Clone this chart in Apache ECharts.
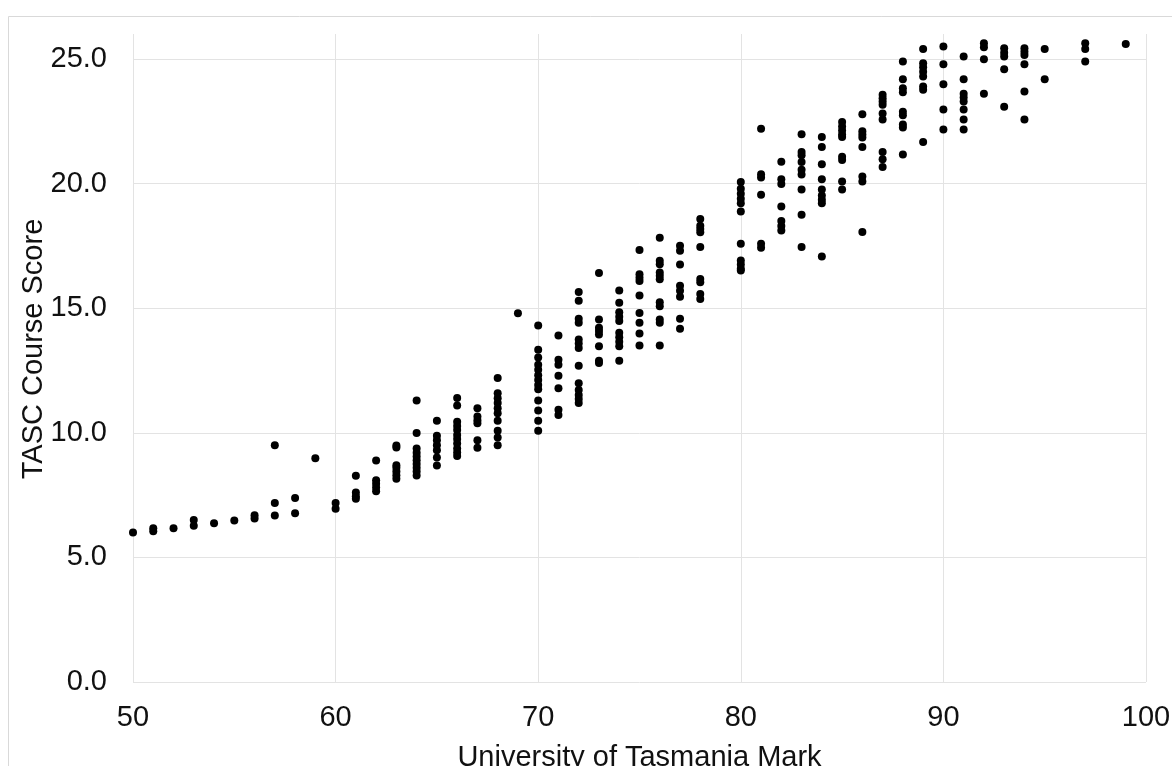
<!DOCTYPE html>
<html>
<head>
<meta charset="utf-8">
<script src="https://cdn.jsdelivr.net/npm/echarts@6/dist/echarts.min.js"></script>
<style>html,body{margin:0;padding:0;background:#fff;}#c{width:1172px;height:766px;}</style>
</head>
<body>
<div id="c"></div>
<script>
// University of Tasmania Mark -> list of TASC Course Scores observed at that mark
const marks = [50,51,52,53,54,55,56,57,58,59,60,61,62,63,64,65,66,67,68,69,70,71,72,73,74,75,76,77,78,80,81,82,83,84,85,86,87,88,89,90,91,92,93,94,95,97,99];
const scoresByMark = [
  [6.0],
  [6.05, 6.17],
  [6.17],
  [6.27, 6.5],
  [6.37],
  [6.48],
  [6.56, 6.69],
  [6.68, 7.18, 9.5],
  [6.77, 7.38],
  [8.98],
  [6.95, 7.18],
  [7.35, 7.45, 7.6, 8.28],
  [7.65, 7.8, 7.95, 8.09, 8.89],
  [8.16, 8.3, 8.45, 8.6, 8.7, 9.41, 9.49],
  [8.29, 8.45, 8.6, 8.75, 8.9, 9.05, 9.2, 9.37, 9.99, 11.29],
  [8.69, 9.01, 9.3, 9.5, 9.7, 9.88, 10.48],
  [9.07, 9.21, 9.37, 9.57, 9.75, 9.91, 10.11, 10.27, 10.44, 11.09, 11.4],
  [9.4, 9.7, 10.38, 10.5, 10.65, 10.98],
  [9.5, 9.81, 10.08, 10.48, 10.78, 10.98, 11.19, 11.39, 11.59, 12.2],
  [14.8],
  [10.08, 10.48, 10.89, 11.29, 11.75, 11.92, 12.12, 12.31, 12.53, 12.73, 13.02, 13.33, 14.3],
  [10.71, 10.92, 11.79, 12.29, 12.73, 12.93, 13.9],
  [11.19, 11.35, 11.52, 11.72, 11.99, 12.69, 13.4, 13.58, 13.74, 14.41, 14.57, 15.3, 15.65],
  [12.8, 12.89, 13.47, 13.94, 14.08, 14.21, 14.54, 16.41],
  [12.89, 13.47, 13.65, 13.83, 14.01, 14.48, 14.66, 14.84, 15.22, 15.71],
  [13.5, 13.98, 14.41, 14.81, 15.51, 16.09, 16.22, 16.36, 17.33],
  [13.5, 14.41, 14.54, 15.08, 15.24, 16.16, 16.3, 16.43, 16.76, 16.9, 17.82],
  [14.17, 14.57, 15.46, 15.7, 15.9, 16.75, 17.3, 17.5],
  [15.37, 15.57, 16.04, 16.17, 17.45, 18.05, 18.18, 18.31, 18.58],
  [16.51, 16.58, 16.75, 16.91, 17.58, 18.88, 19.21, 19.39, 19.59, 19.79, 20.06],
  [17.42, 17.58, 19.55, 20.24, 20.37, 22.2],
  [18.12, 18.3, 18.5, 19.08, 19.98, 20.17, 20.87],
  [17.45, 18.75, 19.76, 20.36, 20.55, 20.86, 21.14, 21.27, 21.98],
  [17.07, 19.21, 19.35, 19.52, 19.76, 20.17, 20.77, 21.47, 21.87],
  [19.76, 20.08, 20.94, 21.07, 21.87, 21.97, 22.13, 22.29, 22.47],
  [18.06, 20.08, 20.28, 21.47, 21.85, 21.97, 22.1, 22.78],
  [20.66, 20.97, 21.27, 22.57, 22.81, 23.16, 23.29, 23.42, 23.56],
  [21.17, 22.25, 22.37, 22.74, 22.88, 23.66, 23.82, 24.18, 24.9],
  [21.67, 23.76, 23.89, 24.29, 24.49, 24.67, 24.83, 25.4],
  [22.17, 22.97, 23.98, 24.79, 25.5],
  [22.17, 22.57, 22.97, 23.29, 23.45, 23.6, 24.18, 25.1],
  [23.6, 24.99, 25.47, 25.63],
  [23.08, 24.59, 25.1, 25.25, 25.43],
  [22.57, 23.69, 24.79, 25.16, 25.29, 25.43],
  [24.18, 25.4],
  [24.9, 25.4, 25.63],
  [25.6]
];
const xTicks = [50, 60, 70, 80, 90, 100];
const yTicks = [0, 5, 10, 15, 20, 25];
const xTitle = 'University of Tasmania Mark';
const yTitle = 'TASC Course Score';

const points = [];
marks.forEach((m, i) => scoresByMark[i].forEach(s => points.push([m, s])));

const FONT = 'Liberation Sans, Arial, sans-serif';
const TXT = '#111';
const GRID = '#e3e3e3';
const FS = 29;

const chart = echarts.init(document.getElementById('c'), null, {renderer: 'canvas'});
chart.setOption({
  animation: false,
  backgroundColor: '#fff',
  graphic: [{
    type: 'rect', left: 6, top: 14, silent: true,
    shape: {x: 0, y: 0, width: 1300, height: 900},
    style: {fill: 'none', stroke: '#d9d9d9', lineWidth: 1}
  }],
  grid: {left: 133, right: 26, top: 34, bottom: 84, containLabel: false, outerBoundsMode: 'none'},
  xAxis: {
    type: 'value', min: xTicks[0], max: xTicks[xTicks.length - 1], interval: 10,
    name: xTitle, nameLocation: 'middle', nameGap: 61, nameMoveOverlap: false,
    nameTextStyle: {fontSize: FS, color: TXT, fontFamily: FONT},
    axisLine: {show: false}, axisTick: {show: false},
    axisLabel: {fontSize: FS, color: TXT, fontFamily: FONT, margin: 21},
    splitLine: {show: true, lineStyle: {color: GRID, width: 1}}
  },
  yAxis: {
    type: 'value', min: 0, max: 26, interval: 5,
    name: yTitle, nameLocation: 'middle', nameGap: 85, nameMoveOverlap: false,
    nameTextStyle: {fontSize: FS, color: TXT, fontFamily: FONT, padding: [0, 0, 0, 18]},
    axisLine: {show: false}, axisTick: {show: false},
    axisLabel: {
      fontSize: FS, color: TXT, fontFamily: FONT, margin: 26,
      formatter: v => (yTicks.indexOf(v) >= 0 ? v.toFixed(1) : '')
    },
    splitLine: {show: true, lineStyle: {color: [GRID, GRID, GRID, GRID, GRID, GRID, 'rgba(0,0,0,0)'], width: 1}}
  },
  series: [{
    type: 'scatter',
    data: points,
    symbol: 'circle',
    symbolSize: 8,
    itemStyle: {color: '#000', opacity: 1},
    clip: false
  }]
});
</script>
</body>
</html>
